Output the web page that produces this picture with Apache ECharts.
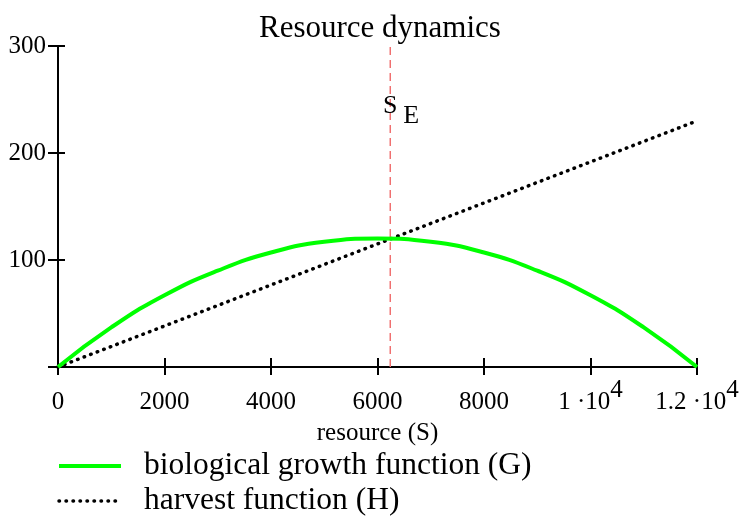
<!DOCTYPE html>
<html><head><meta charset="utf-8">
<script src="https://cdn.jsdelivr.net/npm/echarts@6/dist/echarts.min.js"></script>
<style>html,body{margin:0;padding:0;background:#fff}#c{width:739px;height:523px}</style>
</head><body><div id="c"></div>
<script>
// Data
const resource = [0, 1000, 2000, 3000, 4000, 5000, 6000, 7000, 8000, 9000, 10000, 11000, 12000];
const growthG = [0, 37, 67, 90, 107, 117, 120, 117, 107, 90, 67, 37, 0];
const harvestS = [0, 12000];
const harvestH = [0, 230];
const equilibriumS = 6240;
const seLabelY = 244;
const xTickLabels = {0:'{b|0}',2000:'{b|2000}',4000:'{b|4000}',6000:'{b|6000}',8000:'{b|8000}',10000:'{b|1 ·10}{s|4}',12000:'{b|1.2 ·10}{s|4}'};
const yTickLabels = {0:'',100:'100',200:'200',300:'300'};

const FONT = '"Liberation Serif", "Times New Roman", serif';
const chart = echarts.init(document.getElementById('c'));
const grid = {left: 58, right: 42, top: 46, bottom: 156, outerBoundsMode:'none', containLabel:false};
const xBase = {type:'value', min:0, max:12000, interval:2000, gridIndex:0, position:'bottom'};
const yBase = {type:'value', min:0, max:300, interval:100, gridIndex:0, position:'left'};
chart.setOption({
  animation:false,
  title:{text:'Resource dynamics', left:254, top:8, textStyle:{fontFamily:FONT, fontSize:31, fontWeight:'normal', color:'#000'}},
  grid: grid,
  legend:{orient:'vertical', left:52, top:445, itemWidth:62, itemHeight:14, itemGap:3,
    itemStyle:{color:'transparent', borderWidth:0, opacity:0},
    lineStyle:{width:'inherit'},
    textStyle:{fontFamily:FONT, fontSize:31.5, color:'#000', padding:[0,0,0,18]},
    data:['biological growth function (G)','harvest function (H)']},
  xAxis:[
    Object.assign({}, xBase, {
      name:'resource (S)', nameLocation:'middle', nameGap:54,
      nameTextStyle:{fontFamily:FONT, fontSize:25, color:'#000'},
      axisLine:{lineStyle:{color:'#000', width:2}},
      axisTick:{inside:true, length:9, lineStyle:{color:'#000', width:2}},
      splitLine:{show:false},
      axisLabel:{fontFamily:FONT, fontSize:25, color:'#000', margin:11,
        formatter:v=>xTickLabels[v]!==undefined?xTickLabels[v]:'' ,
        rich:{b:{fontFamily:FONT, fontSize:25, color:'#000', padding:[12,0,0,0]},
              s:{fontFamily:FONT, fontSize:25, color:'#000', padding:[0,0,12,0]}}}
    }),
    Object.assign({}, xBase, {
      axisLine:{show:false}, axisLabel:{show:false}, splitLine:{show:false},
      axisTick:{inside:false, length:8, lineStyle:{color:'#000', width:2}}
    })
  ],
  yAxis:[
    Object.assign({}, yBase, {
      axisLine:{show:true, lineStyle:{color:'#000', width:2}},
      axisTick:{show:true, inside:false, length:10, lineStyle:{color:'#000', width:2}},
      splitLine:{show:false},
      axisLabel:{fontFamily:FONT, fontSize:25, color:'#000', margin:12,
        formatter:v=>yTickLabels[v]!==undefined?yTickLabels[v]:''}
    }),
    Object.assign({}, yBase, {
      axisLine:{show:false}, axisLabel:{show:false}, splitLine:{show:false},
      axisTick:{show:true, inside:true, length:7, lineStyle:{color:'#000', width:2}}
    })
  ],
  series:[
    {name:'equilibrium', type:'line', symbol:'none', silent:true,
      data:[[equilibriumS,0],[equilibriumS,300]],
      lineStyle:{color:'#f07070', width:1.5, type:[8,5]},
      markPoint:{symbol:'circle', symbolSize:0, silent:true,
        data:[
          {coord:[equilibriumS, seLabelY], label:{show:true, formatter:'S', fontFamily:FONT, fontSize:26, color:'#000', offset:[0,0]}},
          {coord:[equilibriumS, seLabelY], label:{show:true, formatter:'E', fontFamily:FONT, fontSize:26, color:'#000', offset:[21,10]}}
        ]}
    },
    {name:'harvest function (H)', type:'line', symbol:'none',
      data: harvestS.map((s,i)=>[s, harvestH[i]]),
      lineStyle:{color:'#000', width:3.5, type:[0.5,6.5], cap:'round'}, itemStyle:{color:'#000'}},
    {name:'biological growth function (G)', type:'line', symbol:'none', smooth:true,
      data: resource.map((s,i)=>[s, growthG[i]]),
      lineStyle:{color:'#00ff00', width:4}, itemStyle:{color:'#00ff00'}}
  ]
});
</script></body></html>
